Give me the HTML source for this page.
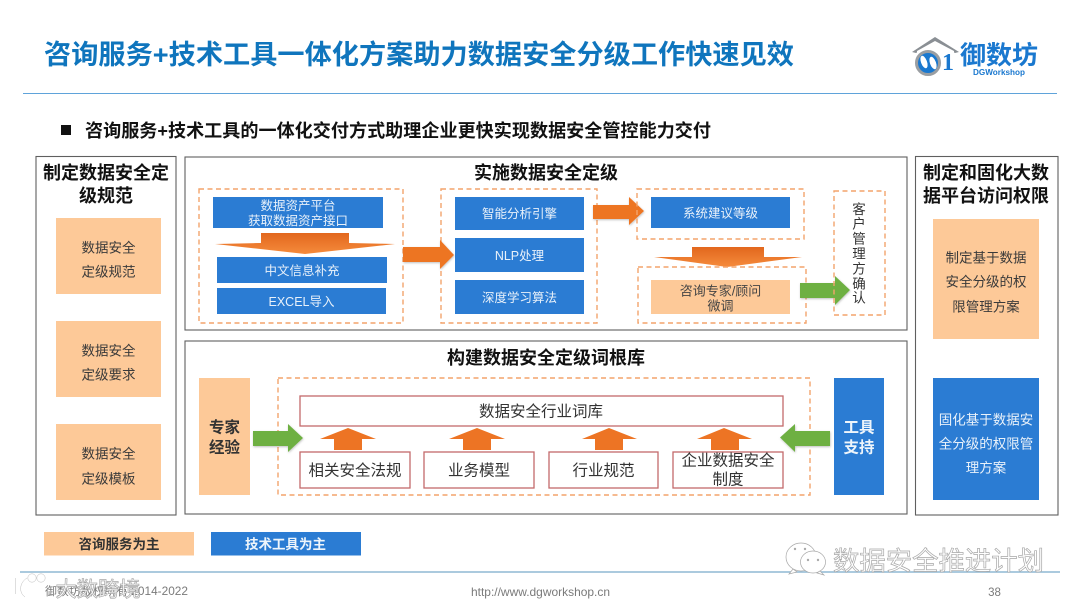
<!DOCTYPE html>
<html lang="zh"><head><meta charset="utf-8"><title>咨询服务+技术工具一体化方案</title>
<style>
html,body{margin:0;padding:0;background:#fff}
svg{display:block;filter:blur(.35px)}
text{font-family:"Liberation Sans","Noto Sans CJK SC",sans-serif;dominant-baseline:central;text-anchor:middle;transform:translateY(.8px)}
.b{font-weight:700}
.w{fill:#e8f1fa;font-size:12.5px}
.k{fill:#3a3a3a;font-size:13.5px}
.h{font-weight:700;font-size:18px;fill:#111}
.p{fill:none;stroke:#5f5f5f;stroke-width:1.1}
.d{fill:none;stroke:#f3a46c;stroke-width:1.4;stroke-dasharray:5 3.5}
.r{fill:#fff;stroke:#c4696b;stroke-width:1.3}
.bl{fill:#2b7cd3}.or{fill:#fdc998}
.t{fill:#333;font-size:15.5px}
</style></head><body>
<svg width="1080" height="608" viewBox="0 0 1080 608" xmlns="http://www.w3.org/2000/svg">
<defs>
<linearGradient id="g" x1="0" y1="0" x2="0" y2="1"><stop offset="0" stop-color="#e2671d"/><stop offset="1" stop-color="#f58b3c"/></linearGradient>
<filter id="s" x="-10%" y="-20%" width="125%" height="150%"><feDropShadow dx="0.5" dy="1" stdDeviation="1" flood-color="#000" flood-opacity=".25"/></filter>
</defs>
<rect width="1080" height="608" fill="#fff"/>
<text class="b" x="419" y="54" font-size="27" fill="#0f75bd" textLength="750" lengthAdjust="spacingAndGlyphs">咨询服务+技术工具一体化方案助力数据安全分级工作快速见效</text>
<!-- logo -->
<path d="M912 52 L935 37 L959 52 L955 53 L935 42 L916 53Z" fill="#8a8f94"/>
<path d="M917 51L935 41L954 51V70H930V66H917Z" fill="#fff"/>
<circle cx="928" cy="63" r="11.5" fill="#1a78cf" stroke="#9a9ea2" stroke-width="3"/>
<ellipse cx="924" cy="62" rx="3" ry="6.5" fill="#fff" transform="rotate(-20 924 62)"/>
<ellipse cx="933" cy="63" rx="3" ry="6.5" fill="#fff" transform="rotate(-20 933 63)"/>
<text x="948" y="62" font-size="24" class="b" fill="#1a78cf" style="font-family:'Liberation Serif',serif">1</text>
<text class="b" x="999" y="55" font-size="25.5" fill="#1a78cf" textLength="78" lengthAdjust="spacingAndGlyphs">御数坊</text>
<text class="b" x="999" y="71.5" font-size="8" fill="#1a78cf" textLength="52" lengthAdjust="spacingAndGlyphs">DGWorkshop</text>
<line x1="23" y1="93.5" x2="1057" y2="93.5" stroke="#5fa3da" stroke-width="1.1"/>
<rect x="61" y="125" width="10" height="10" fill="#111"/>
<text class="b" x="398" y="130" font-size="18" fill="#111" textLength="626" lengthAdjust="spacingAndGlyphs">咨询服务+技术工具的一体化交付方式助理企业更快实现数据安全管控能力交付</text>

<!-- panels -->
<rect class="p" x="36" y="156.5" width="140" height="358.5"/>
<rect class="p" x="185" y="157" width="722" height="173"/>
<rect class="p" x="185" y="341" width="722" height="173"/>
<rect class="p" x="915.5" y="156.5" width="142.5" height="358.5"/>

<!-- left -->
<text class="h" x="106" y="172">制定数据安全定</text>
<text class="h" x="106" y="195">级规范</text>
<rect class="or" x="56" y="218" width="105" height="76"/>
<text class="k" x="108.5" y="247">数据安全</text><text class="k" x="108.5" y="271">定级规范</text>
<rect class="or" x="56" y="321" width="105" height="76"/>
<text class="k" x="108.5" y="350">数据安全</text><text class="k" x="108.5" y="374">定级要求</text>
<rect class="or" x="56" y="424" width="105" height="76"/>
<text class="k" x="108.5" y="453">数据安全</text><text class="k" x="108.5" y="478">定级模板</text>

<!-- top middle -->
<text class="h" x="546" y="172">实施数据安全定级</text>
<rect class="d" x="199" y="189" width="204" height="134"/>
<rect class="bl" x="213" y="197" width="170" height="31"/>
<text class="w" x="298" y="205">数据资产平台</text><text class="w" x="298" y="220">获取数据资产接口</text>
<path d="M261 233H349V243L395 244L305 254L215 244L261 243Z" fill="url(#g)"/>
<rect class="bl" x="217" y="257" width="170" height="26"/><text class="w" x="302" y="270">中文信息补充</text>
<rect class="bl" x="217" y="288" width="169" height="26"/><text class="w" x="301.5" y="301">EXCEL导入</text>
<rect class="d" x="441" y="189" width="156" height="134"/>
<rect class="bl" x="455" y="197" width="129" height="33"/><text class="w" x="519.5" y="213">智能分析引擎</text>
<rect class="bl" x="455" y="238" width="129" height="34"/><text class="w" x="519.5" y="255">NLP处理</text>
<rect class="bl" x="455" y="280" width="129" height="34"/><text class="w" x="519.5" y="297">深度学习算法</text>
<path d="M403 247H440V240L454 255L440 269V262H403Z" fill="#ed7424" filter="url(#s)"/>
<path d="M593 205H629V197L644 211L629 225V219H593Z" fill="#ed7424" filter="url(#s)"/>
<rect class="d" x="637" y="189" width="167" height="50"/>
<rect class="bl" x="651" y="197" width="139" height="31"/><text class="w" x="720.5" y="212.5">系统建议等级</text>
<path d="M692 247H764V257L802 257L727 267L654 257L692 257Z" fill="url(#g)"/>
<rect class="d" x="638" y="267" width="168" height="56"/>
<rect class="or" x="651" y="280" width="139" height="34"/>
<text x="720.5" y="290" font-size="13" fill="#444">咨询专家/顾问</text><text x="720.5" y="305" font-size="13" fill="#444">微调</text>
<path d="M800 283H835V276L850 290L835 305V298H800Z" fill="#6eb043" filter="url(#s)"/>
<rect class="d" x="834" y="191" width="51" height="124"/>
<g font-size="13.5" fill="#333">
<text x="859" y="208.500">客</text><text x="859" y="223">户</text><text x="859" y="238">管</text><text x="859" y="253">理</text><text x="859" y="268">方</text><text x="859" y="283">确</text><text x="859" y="297">认</text>
</g>

<!-- bottom middle -->
<text class="h" x="546" y="357">构建数据安全定级词根库</text>
<rect class="or" x="199" y="378" width="51" height="117"/>
<text class="b" x="224.5" y="427" font-size="15.5" fill="#333">专家</text><text class="b" x="224.5" y="447" font-size="15.5" fill="#333">经验</text>
<rect class="d" x="278" y="378" width="532" height="117"/>
<rect class="r" x="300" y="396" width="483" height="30"/>
<text class="t" x="541" y="411">数据安全行业词库</text>
<path d="M253 431H288V424L303 438L288 452V446H253Z" fill="#6eb043" filter="url(#s)"/>
<path d="M830 431H795V424L780 437.500L795 452V446H830Z" fill="#6eb043" filter="url(#s)"/>
<g fill="#ed7424">
<path d="M348 428L376 439H362V450H334V439H320Z"/>
<path d="M477 428L505 439H491V450H463V439H449Z"/>
<path d="M609 428L637 439H623V450H595V439H582Z"/>
<path d="M724 428L752 439H739V450H711V439H697Z"/>
</g>
<rect class="r" x="300" y="452" width="110" height="36"/><text class="t" x="355" y="470">相关安全法规</text>
<rect class="r" x="424" y="452" width="110" height="36"/><text class="t" x="479" y="470">业务模型</text>
<rect class="r" x="549" y="452" width="109" height="36"/><text class="t" x="603.5" y="470">行业规范</text>
<rect class="r" x="673" y="452" width="110" height="36"/><text class="t" x="728" y="460">企业数据安全</text><text class="t" x="728" y="479">制度</text>
<rect class="bl" x="834" y="378" width="50" height="117"/>
<text class="b" x="859" y="427" font-size="15.5" fill="#eef5fb">工具</text><text class="b" x="859" y="447" font-size="15.5" fill="#eef5fb">支持</text>

<!-- right -->
<text class="h" x="986" y="172">制定和固化大数</text>
<text class="h" x="986" y="195">据平台访问权限</text>
<rect class="or" x="933" y="219" width="106" height="120"/>
<text class="k" x="986" y="257">制定基于数据</text><text class="k" x="986" y="281">安全分级的权</text><text class="k" x="986" y="306">限管理方案</text>
<rect class="bl" x="933" y="378" width="106" height="122"/>
<text class="w" x="986" y="419" style="font-size:13.5px">固化基于数据安</text><text class="w" x="986" y="443" style="font-size:13.5px">全分级的权限管</text><text class="w" x="986" y="467" style="font-size:13.5px">理方案</text>

<!-- legend -->
<rect class="or" x="44" y="532" width="150" height="23.5"/>
<text class="b" x="119" y="543.5" font-size="13.5" fill="#333">咨询服务为主</text>
<rect class="bl" x="211" y="532" width="150" height="23.5"/>
<text class="b" x="285.5" y="543.5" font-size="13.5" fill="#eef5fb">技术工具为主</text>

<!-- footer -->
<line x1="20" y1="572" x2="1060" y2="572" stroke="#8fb8d4" stroke-width="1.4"/>
<text x="116.5" y="591" font-size="11.5" fill="#7a7a7a" textLength="143" lengthAdjust="spacingAndGlyphs">御数坊版权所有 2014-2022</text>
<text x="540.5" y="591" font-size="12" fill="#7a7a7a" textLength="139" lengthAdjust="spacingAndGlyphs">http://www.dgworkshop.cn</text>
<text x="994.5" y="592" font-size="11.5" fill="#7a7a7a">38</text>

<!-- watermarks -->
<g fill="#fff" stroke="#a8a8a8" stroke-width=".7">
<text x="98" y="589" font-size="21" textLength="85" lengthAdjust="spacingAndGlyphs">大数跨境</text>
<text x="938.5" y="560" font-size="26" textLength="211" lengthAdjust="spacingAndGlyphs">数据安全推进计划</text>
<ellipse cx="801" cy="557" rx="15" ry="14"/>
<path d="M793 569l-4 5 8-2z"/>
<ellipse cx="813" cy="562" rx="12.5" ry="11"/>
<path d="M820 571l4 4-7-2z"/>
</g>
<g fill="none" stroke="#fff" stroke-width="2.4">
<path d="M14 578V594M26 578C19 582 17 592 24 597C28 599 31 598 33 596"/>
<circle cx="32" cy="578" r="3"/><circle cx="41" cy="578" r="3"/>
</g>
<g fill="none" stroke="#bdbdbd" stroke-width=".5">
<path d="M15.500 578V594M27 578C20 582 18 592 25 597"/>
<circle cx="32" cy="578" r="4.200"/><circle cx="41" cy="578" r="4.200"/>
</g>
<g fill="#aaa"><circle cx="795" cy="549" r="1.2"/><circle cx="805" cy="549" r="1.2"/><circle cx="808" cy="560" r="1.2"/><circle cx="818" cy="560" r="1.2"/></g>
</svg>
</body></html>
